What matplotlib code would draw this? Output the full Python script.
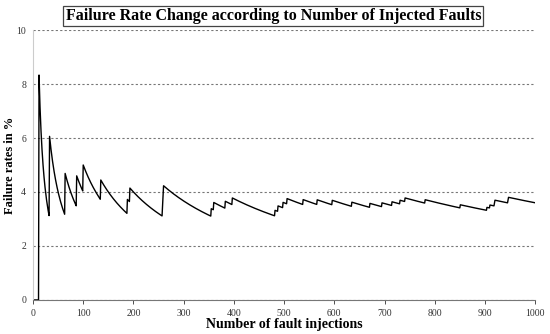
import numpy as np
import matplotlib
matplotlib.use("Agg")
import matplotlib.pyplot as plt

failure_at = [12, 33, 64, 87, 100, 135, 188, 193, 258, 259, 260,
              355, 360, 383, 397, 482, 488, 498, 506, 538, 566, 596,
              635, 671, 695, 715, 731, 741, 781, 851, 904, 910, 919,
              920, 946, 947]
total_injections = 1000

x_ticks = list(range(0, 1001, 100))
y_ticks = [0, 2, 4, 6, 8, 10]

title = "Failure Rate Change according to Number of Injected Faults"
x_label = "Number of fault injections"
y_label = "Failure rates in %"

# running failure rate
injections = np.arange(1, total_injections + 1)
failures = np.searchsorted(np.array(failure_at), injections, side="right")
rate = 100.0 * failures / injections

plt.rcParams['font.family'] = ['Liberation Serif', 'DejaVu Serif']

fig = plt.figure(figsize=(5.5, 3.34), dpi=100)
ax = fig.add_axes([0.06, 0.102, 0.913, 0.808])

ax.plot(injections, rate, color='black', lw=1.0)

ax.set_xlim(0, 1000)
ax.set_ylim(0, 10)
ax.set_xticks(x_ticks)
ax.set_yticks(y_ticks)
ax.tick_params(labelsize=7, colors='#333333', length=3, width=0.6)
ax.tick_params(axis='y', length=0, pad=5)

ax.yaxis.grid(True, linestyle=(0, (2, 2)), color='#777777', lw=0.8)
ax.set_axisbelow(True)

for s in ['top', 'right']:
    ax.spines[s].set_visible(False)
ax.spines['left'].set_color('#cccccc')
ax.spines['bottom'].set_color('#777777')
ax.spines['bottom'].set_linewidth(0.8)

ax.set_xlabel(x_label, fontsize=10, fontweight='bold', labelpad=0)
ax.set_ylabel(y_label, fontsize=9, fontweight='bold')
ax.yaxis.set_label_coords(-0.033, 0.5)

fig.text(0.497, 0.952, title, ha='center', va='center', fontsize=11.5,
         fontweight='bold',
         bbox=dict(boxstyle='square,pad=0.15', fc='white', ec='#444444', lw=0.9))

fig.savefig('out.png', dpi=100)
